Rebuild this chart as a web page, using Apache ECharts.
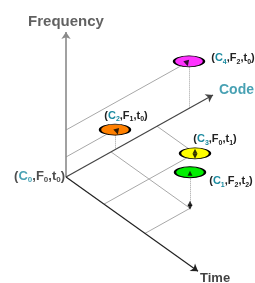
<!DOCTYPE html>
<html>
<head>
<meta charset="utf-8">
<script src="https://cdn.jsdelivr.net/npm/echarts@6/dist/echarts.min.js"></script>
<style>
  html, body { margin: 0; padding: 0; background: #fff; }
  #chart { width: 255px; height: 283px; }
</style>
</head>
<body>
<div id="chart"></div>
<script>
  // points in (code, frequency, time) space
  const pointCode = [0, 123, 49, 91, 45];
  const pointFreq = [0, 47, 20, 0, 36];
  const pointTime = [0, 0, 0, 38, 79];
  const codeIdx = ['0', '4', '2', '3', '1'];
  const freqIdx = ['0', '2', '1', '0', '2'];
  const timeIdx = ['0', '0', '0', '1', '2'];
  const axisNames = ['Frequency', 'Code', 'Time'];
  const axisLength = [145, 147, 132]; // freq, code, time

  // oblique projection of the 3 axes onto the page
  const OX = 66, OY = 177, CODE_DY = -0.558, TIME_DY = 0.714;
  function proj(c, f, t) {
    return [OX + c + t, OY + CODE_DY * c + TIME_DY * t - f];
  }

  const TEAL = '#1a8aa0';
  const FONT = '"Liberation Sans", Arial, sans-serif';
  const diskColors = [null, '#ff33ff', '#ff8000', '#ffff00', '#00ee00'];
  const ellipse = 'path://M0,10A20,10 0 1,1 40,10A20,10 0 1,1 0,10Z';

  function richFor(size) {
    const sub = Math.round(size * 0.65);
    return {
      p: { fontFamily: FONT, fontWeight: 'bold', fontSize: size, color: '#222', lineHeight: size + 3 },
      c: { fontFamily: FONT, fontWeight: 'bold', fontSize: size, color: TEAL, lineHeight: size + 3 },
      s: { fontFamily: FONT, fontWeight: 'bold', fontSize: sub, color: '#222', verticalAlign: 'bottom', lineHeight: size + 3, padding: [4, 0, 0, 0] },
      cs: { fontFamily: FONT, fontWeight: 'bold', fontSize: sub, color: TEAL, verticalAlign: 'bottom', lineHeight: size + 3, padding: [4, 0, 0, 0] }
    };
  }
  function labelText(i) {
    return '{p|(}{c|C}{cs|' + codeIdx[i] + '}{p|,F}{s|' + freqIdx[i] + '}{p|,t}{s|' + timeIdx[i] + '}{p|)}';
  }

  // axes
  const axisTips = [
    proj(0, axisLength[0], 0),
    proj(axisLength[1], 0, 0),
    proj(0, 0, axisLength[2])
  ];
  const axisColors = ['#8a8a8a', '#444', '#222'];
  const axisLines = axisTips.map((tip, k) => ({
    coords: [proj(0, 0, 0), tip],
    lineStyle: { color: axisColors[k], width: k === 0 ? 1.6 : 1.2 }
  }));

  // guide lines
  const solidGuides = [];
  const dottedGuides = [];
  for (let i = 1; i < pointCode.length; i++) {
    const c = pointCode[i], f = pointFreq[i], t = pointTime[i];
    const foot = proj(c, 0, t);
    if (t === 0) {
      solidGuides.push({ coords: [proj(0, f, 0), proj(c, f, 0)] });
    } else {
      solidGuides.push({ coords: [proj(c, 0, 0), foot] });
      solidGuides.push({ coords: [proj(0, 0, t), foot] });
    }
    if (f > 0) dottedGuides.push({ coords: [foot, proj(c, f, t)] });
  }

  const labelPlace = [
    null,
    { position: 'right', distance: 6, offset: [0, -3] },
    { position: 'top', distance: 1, offset: [11, 0] },
    { position: 'top', distance: 1, offset: [20, 0] },
    { position: 'right', distance: 3, offset: [0, 9] }
  ];
  const disks = [];
  for (let i = 1; i < pointCode.length; i++) {
    disks.push({
      value: proj(pointCode[i], pointFreq[i], pointTime[i]),
      itemStyle: { color: diskColors[i] },
      label: Object.assign({ show: true, formatter: labelText(i), rich: richFor(11) }, labelPlace[i])
    });
  }

  // small black arrow marks on the disks
  const marks = [];
  const markKind = [null, 'down', 'down', 'both', 'up'];
  const markShift = [null, [-2, 2], [2, 2], [0, 0], [0, 0]];
  for (let i = 1; i < pointCode.length; i++) {
    const p = proj(pointCode[i], pointFreq[i], pointTime[i]);
    if (markKind[i] === 'down') {
      marks.push({ value: p, symbolRotate: 195, symbolSize: [6, 6], symbolOffset: markShift[i] });
    } else if (markKind[i] === 'both') {
      marks.push({ value: p, symbolRotate: 0, symbolOffset: [0, -2] });
      marks.push({ value: p, symbolRotate: 180, symbolOffset: [0, 3] });
    } else {
      marks.push({ value: p, symbolRotate: 0, symbolOffset: [0, 1] });
    }
    if (pointTime[i] > 0 && pointFreq[i] > 0) {
      const foot = proj(pointCode[i], 0, pointTime[i]);
      marks.push({ value: foot, symbolRotate: 180, symbolOffset: [0, -1] });
      marks.push({ value: foot, symbolRotate: 0, symbolOffset: [0, -5] });
    }
  }

  const titleStyle = [
    { position: 'top', distance: 3, offset: [0, 0], color: '#3a3a3a', fontSize: 15 },
    { position: 'right', distance: 6, offset: [0, -5], color: TEAL, fontSize: 14 },
    { position: 'right', distance: 2, offset: [0, 7], color: '#111', fontSize: 13 }
  ];
  const titles = axisTips.map((tip, k) => ({
    value: tip,
    label: {
      show: true, formatter: axisNames[k], fontFamily: FONT, fontWeight: 'bold',
      position: titleStyle[k].position, distance: titleStyle[k].distance,
      offset: titleStyle[k].offset, color: titleStyle[k].color, fontSize: titleStyle[k].fontSize
    }
  }));
  titles.push({
    value: proj(pointCode[0], pointFreq[0], pointTime[0]),
    label: { show: true, formatter: labelText(0), rich: richFor(13), position: 'left', distance: 1, offset: [0, -1] }
  });

  const chart = echarts.init(document.getElementById('chart'));
  chart.setOption({
    animation: false,
    grid: { left: 0, right: 0, top: 0, bottom: 0 },
    xAxis: { type: 'value', min: 0, max: 255, show: false },
    yAxis: { type: 'value', min: 0, max: 283, inverse: true, show: false },
    series: [
      {
        type: 'lines', coordinateSystem: 'cartesian2d', z: 1,
        lineStyle: { color: '#a8a8a8', width: 1, opacity: 1 },
        data: solidGuides
      },
      {
        type: 'lines', coordinateSystem: 'cartesian2d', z: 1,
        lineStyle: { color: '#a0a0a0', width: 1, type: [1, 1], opacity: 1 },
        data: dottedGuides
      },
      {
        type: 'lines', coordinateSystem: 'cartesian2d', z: 2,
        symbol: ['none', 'arrow'], symbolSize: 7,
        lineStyle: { opacity: 1 },
        data: axisLines
      },
      {
        type: 'scatter', z: 3, symbol: ellipse, symbolSize: [30, 11],
        itemStyle: { borderColor: '#000', borderWidth: 1.5, opacity: 1 },
        data: disks
      },
      {
        type: 'scatter', z: 4, symbol: 'triangle', symbolSize: [5, 5],
        itemStyle: { color: '#000' },
        data: marks
      },
      {
        type: 'scatter', z: 4, symbolSize: 0,
        data: titles
      }
    ]
  });
</script>
</body>
</html>
